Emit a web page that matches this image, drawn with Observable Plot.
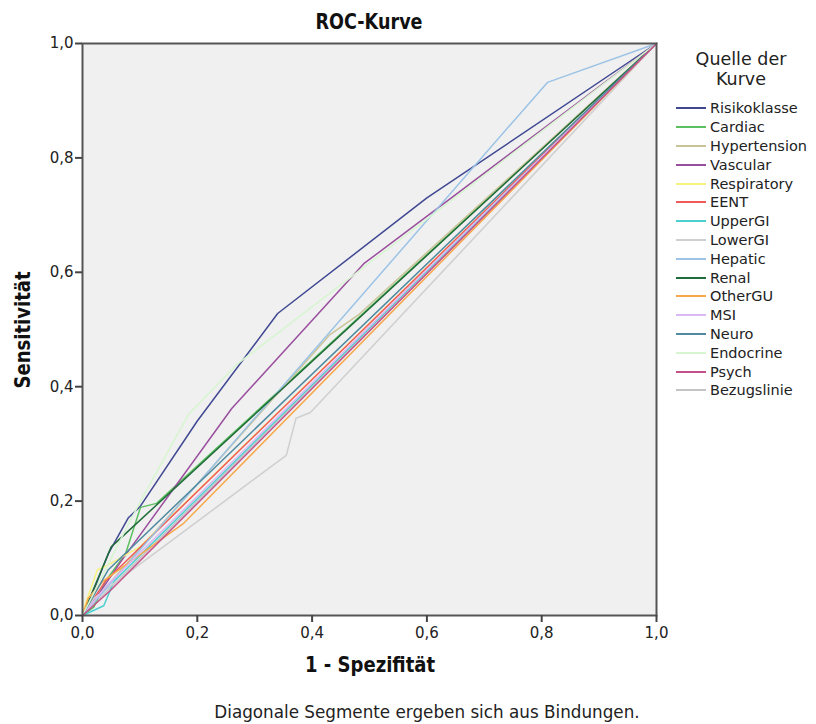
<!DOCTYPE html>
<html>
<head>
<meta charset="utf-8">
<script src="https://cdn.jsdelivr.net/npm/d3@7"></script>
<script src="https://cdn.jsdelivr.net/npm/@observablehq/plot@0.6"></script>
<style>
  body { margin: 0; background: #fff; }
  #wrap { position: relative; width: 816px; height: 724px; overflow: hidden; }
  .narrow { font-family: "DejaVu Sans", sans-serif; font-weight: bold; color: #111; white-space: nowrap; }
  #title { position: absolute; left: 369px; top: 21px; font-size: 22px; transform: translate(-50%, -50%) scaleX(0.8); }
  #xlabel { position: absolute; left: 370px; top: 664px; font-size: 22px; transform: translate(-50%, -50%) scaleX(0.82); }
  #ylabel { position: absolute; left: 22px; top: 330px; font-size: 22px; transform: translate(-50%, -50%) rotate(-90deg) scaleX(0.82); }
  #caption { position: absolute; left: 0; width: 854px; top: 702px; text-align: center; font-family: "DejaVu Sans", sans-serif; font-size: 16.8px; color: #222; }
  #legend { position: absolute; left: 668px; top: 49px; width: 148px; font-family: "DejaVu Sans", sans-serif; color: #222; }
  #legend .lt { text-align: center; font-size: 17.5px; line-height: 20px; margin-left: -2px; }
  #legend .items { margin-top: 10px; }
  #legend .it { display: flex; align-items: center; height: 18.8px; font-size: 14.5px; }
  #legend .sw { width: 30px; height: 2px; margin-left: 8px; margin-right: 4px; }
</style>
</head>
<body>
<div id="wrap">
  <div id="plot"></div>
  <div id="title" class="narrow">ROC-Kurve</div>
  <div id="xlabel" class="narrow">1 - Spezifität</div>
  <div id="ylabel" class="narrow">Sensitivität</div>
  <div id="caption">Diagonale Segmente ergeben sich aus Bindungen.</div>
  <div id="legend">
    <div class="lt">Quelle der<br>Kurve</div>
    <div class="items" id="items"></div>
  </div>
</div>
<script>
// Series names and colours (legend order)
const seriesNames = ["Risikoklasse","Cardiac","Hypertension","Vascular","Respiratory","EENT","UpperGI","LowerGI","Hepatic","Renal","OtherGU","MSI","Neuro","Endocrine","Psych","Bezugslinie"];
const seriesColors = ["#3f4891","#5cbf60","#c9c498","#9a4f9e","#f7f27e","#f05a5a","#4ccfd0","#d0d0d0","#9cc3e6","#1f6b3a","#f8a84c","#d8b9f3","#4f8aa0","#d7f5d0","#c25089","#c4c4c4"];

// ROC points per series: [1 - specificity, sensitivity]
const risikoklasse = [[0,0],[0.01,0.02],[0.031,0.073],[0.045,0.108],[0.08,0.171],[0.1,0.19],[0.2,0.34],[0.34,0.528],[0.6,0.73],[1,1]];
const cardiac      = [[0,0],[0.02,0.015],[0.04,0.06],[0.075,0.108],[0.101,0.189],[0.129,0.196],[1,1]];
const hypertension = [[0,0],[0.05,0.06],[0.43,0.49],[0.48,0.525],[1,1]];
const vascular     = [[0,0],[0.03,0.04],[0.068,0.096],[0.26,0.362],[0.49,0.615],[1,1]];
const respiratory  = [[0,0],[0.005,0.02],[0.026,0.08],[0.04,0.086],[0.1,0.12],[1,1]];
const eent         = [[0,0],[0.04,0.06],[1,1]];
const upperGI      = [[0,0],[0.037,0.017],[0.055,0.06],[1,1]];
const lowerGI      = [[0,0],[0.02,0.03],[0.355,0.28],[0.372,0.345],[0.397,0.355],[1,1]];
const hepatic      = [[0,0],[0.07,0.08],[0.749,0.862],[0.81,0.932],[1,1]];
const renal        = [[0,0],[0.05,0.12],[1,1]];
const otherGU      = [[0,0],[0.01,0.03],[0.036,0.06],[0.175,0.16],[1,1]];
const msi          = [[0,0],[0.04,0.05],[1,1]];
const neuro        = [[0,0],[0.045,0.08],[1,1]];
const endocrine    = [[0,0],[0.03,0.06],[0.08,0.16],[0.111,0.218],[0.185,0.352],[0.27,0.44],[1,1]];
const psych        = [[0,0],[0.05,0.045],[1,1]];
const bezugslinie  = [[0,0],[1,1]];

const seriesPoints = [risikoklasse,cardiac,hypertension,vascular,respiratory,eent,upperGI,lowerGI,hepatic,renal,otherGU,msi,neuro,endocrine,psych,bezugslinie];
const tickValues = [0,0.2,0.4,0.6,0.8,1.0];

const rows = [];
seriesPoints.forEach((pts, i) => pts.forEach(([fpr, tpr]) => rows.push({series: seriesNames[i], fpr, tpr})));

// draw order: reference line first, then curves in legend order
const drawOrder = ["Bezugslinie", ...seriesNames.filter(s => s !== "Bezugslinie")];

const fmt = d => d.toFixed(1).replace(".", ",");

const chart = Plot.plot({
  width: 816,
  height: 724,
  marginLeft: 82,
  marginRight: 160,
  marginTop: 43,
  marginBottom: 109,
  style: { fontFamily: '"DejaVu Sans", sans-serif', fontSize: "15px", color: "#222", background: "transparent" },
  x: { domain: [0, 1] },
  y: { domain: [0, 1] },
  color: { domain: seriesNames, range: seriesColors },
  marks: [
    Plot.frame({ fill: "#f0f0f0", stroke: null }),
    ...drawOrder.map(s => Plot.line(rows.filter(r => r.series === s), {
      x: "fpr", y: "tpr", stroke: "series",
      strokeWidth: s === "Bezugslinie" || s === "LowerGI" ? 1.6 : 1.5,
      curve: "linear"
    })),
    Plot.frame({ stroke: "#555", strokeWidth: 2 }),
    Plot.axisX({ ticks: tickValues, tickFormat: fmt, tickSize: 7, tickPadding: 5, label: null, stroke: "#444", strokeWidth: 2, fontSize: 15 }),
    Plot.axisY({ ticks: tickValues, tickFormat: fmt, tickSize: 7, tickPadding: 2, label: null, stroke: "#444", strokeWidth: 2, fontSize: 15 })
  ]
});
document.getElementById("plot").appendChild(chart);

const items = document.getElementById("items");
seriesNames.forEach((s, i) => {
  const d = document.createElement("div");
  d.className = "it";
  const sw = document.createElement("span");
  sw.className = "sw";
  sw.style.background = seriesColors[i];
  const t = document.createElement("span");
  t.textContent = s;
  d.appendChild(sw); d.appendChild(t);
  items.appendChild(d);
});
</script>
</body>
</html>
